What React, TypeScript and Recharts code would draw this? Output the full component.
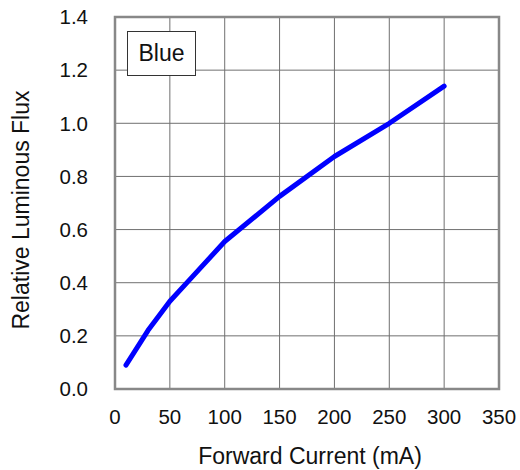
import React from "react";
import {
  LineChart,
  Line,
  XAxis,
  YAxis,
  CartesianGrid,
  ReferenceArea,
} from "recharts";

const currentMa = [10, 30, 50, 70, 100, 150, 200, 250, 300];
const relativeFlux = [0.09, 0.22, 0.33, 0.42, 0.555, 0.725, 0.875, 1.0, 1.14];

const xTicks = [0, 50, 100, 150, 200, 250, 300, 350];
const yTicks = [0, 0.2, 0.4, 0.6, 0.8, 1.0, 1.2, 1.4];

const seriesName = "Blue";

const font = '"Liberation Sans", Arial, sans-serif';

const chartData = currentMa.map((x, i) => ({ x, y: relativeFlux[i] }));

export default function App() {
  return (
    <div
      style={{
        position: "absolute",
        left: 0,
        top: 0,
        width: 520,
        height: 470,
        background: "#fff",
        fontFamily: font,
      }}
    >
      <LineChart
        width={520}
        height={470}
        data={chartData}
        margin={{ top: 17, right: 21, left: 0, bottom: 0 }}
      >
        <CartesianGrid stroke="#707070" strokeWidth={1} />
        <XAxis
          dataKey="x"
          type="number"
          domain={[0, 350]}
          ticks={xTicks}
          height={81}
          tickSize={0}
          tickMargin={20}
          axisLine={false}
          tick={{ fontSize: 20.5, fill: "#111", fontFamily: font }}
          label={{
            content: () => (
              <text
                x={310}
                y={464}
                textAnchor="middle"
                fontSize={23}
                fill="#111"
                fontFamily={font}
              >
                Forward Current (mA)
              </text>
            ),
          }}
        />
        <YAxis
          type="number"
          domain={[0, 1.4]}
          ticks={yTicks}
          width={115}
          tickSize={0}
          tickMargin={27}
          axisLine={false}
          tickFormatter={(v: number) => v.toFixed(1)}
          tick={{ fontSize: 20.5, fill: "#111", fontFamily: font }}
          label={{
            content: () => (
              <text
                x={29}
                y={210}
                transform="rotate(-90 29 210)"
                textAnchor="middle"
                fontSize={23}
                fill="#111"
                fontFamily={font}
              >
                Relative Luminous Flux
              </text>
            ),
          }}
        />
        <ReferenceArea
          x1={0}
          x2={350}
          y1={0}
          y2={1.4}
          fill="none"
          fillOpacity={0}
          stroke="#888"
          strokeWidth={2.5}
        />
        <Line
          type="linear"
          dataKey="y"
          stroke="#0000ff"
          strokeWidth={5}
          strokeLinecap="round"
          strokeLinejoin="round"
          dot={false}
          isAnimationActive={false}
        />
      </LineChart>
      <div
        style={{
          position: "absolute",
          left: 127,
          top: 31,
          width: 67,
          height: 43,
          border: "1px solid #333",
          background: "#fff",
          display: "flex",
          alignItems: "center",
          justifyContent: "center",
          fontSize: 23,
          color: "#111",
        }}
      >
        {seriesName}
      </div>
    </div>
  );
}
